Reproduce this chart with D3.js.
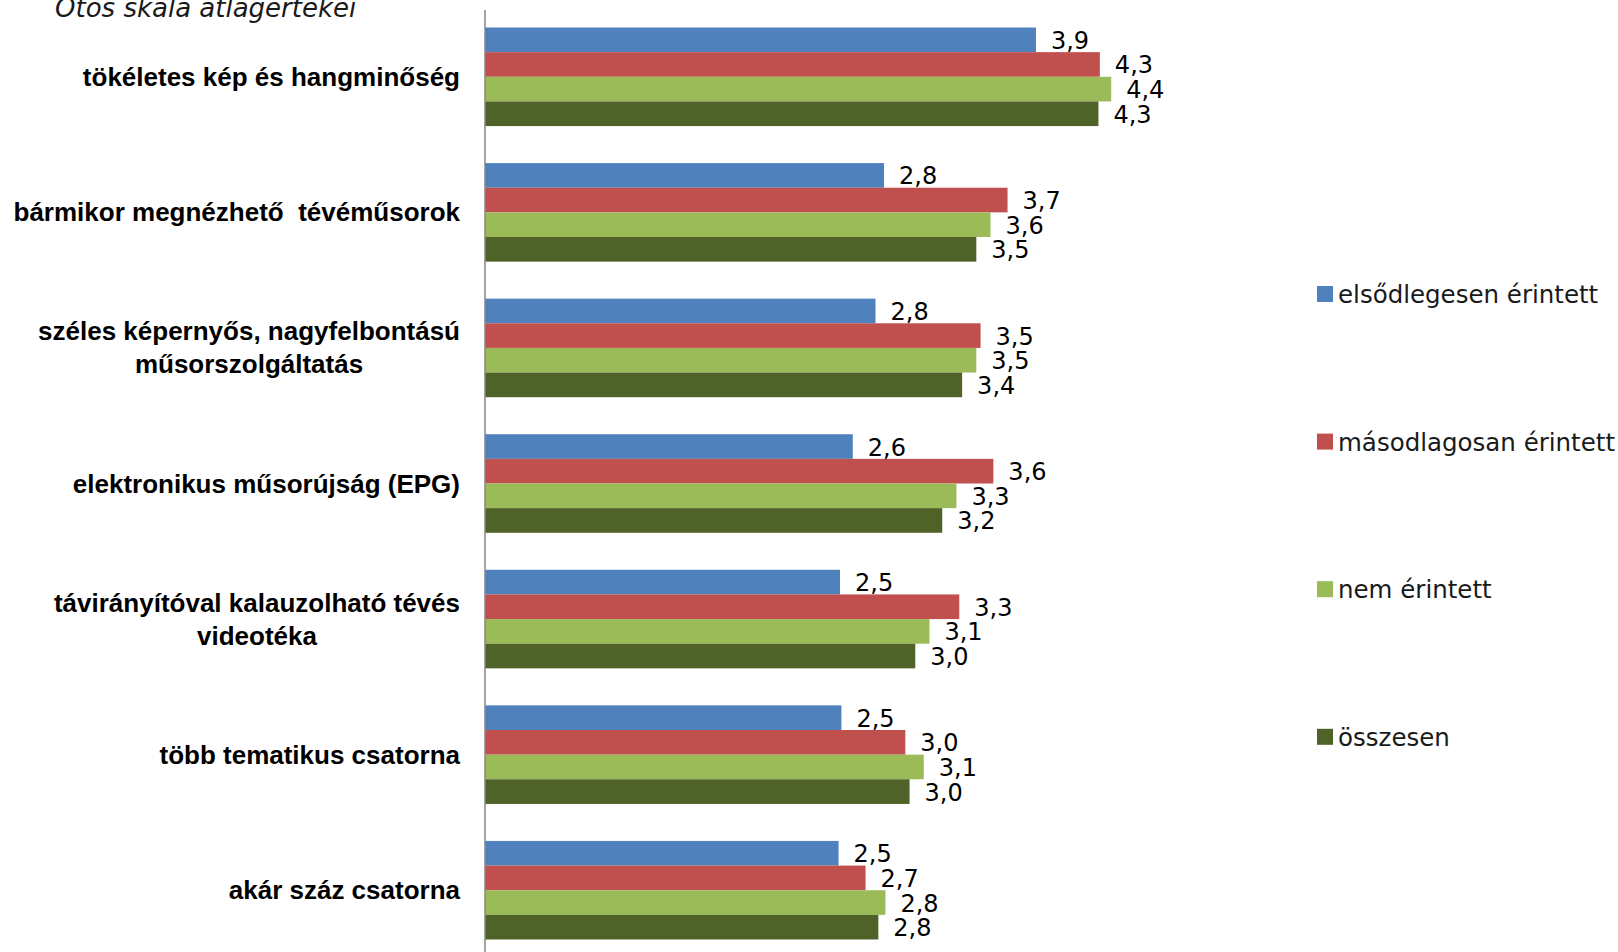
<!DOCTYPE html>
<html>
<head>
<meta charset="utf-8">
<script src="https://cdn.jsdelivr.net/npm/d3@7"></script>
<style>
  body { margin: 0; background: #fff; }
  svg { display: block; font-family: "DejaVu Sans", Verdana, sans-serif; }
</style>
</head>
<body>
<script>
// data
var categories = [
  ["tökéletes kép és hangminőség"],
  ["bármikor megnézhető  tévéműsorok"],
  ["széles képernyős, nagyfelbontású", "műsorszolgáltatás"],
  ["elektronikus műsorújság (EPG)"],
  ["távirányítóval kalauzolható tévés", "videotéka"],
  ["több tematikus csatorna"],
  ["akár száz csatorna"]
];
var seriesNames = ["elsődlegesen érintett", "másodlagosan érintett", "nem érintett", "összesen"];
var elsodleges   = [3.88, 2.81, 2.75, 2.59, 2.50, 2.51, 2.49];
var masodlagos   = [4.33, 3.68, 3.49, 3.58, 3.34, 2.96, 2.68];
var nemErintett  = [4.41, 3.56, 3.46, 3.32, 3.13, 3.09, 2.82];
var osszesen     = [4.32, 3.46, 3.36, 3.22, 3.03, 2.99, 2.77];
var seriesValues = [elsodleges, masodlagos, nemErintett, osszesen];
var colors = ["#4F81BD", "#C0504D", "#9BBB59", "#4F6228"];
var title = "Ötös skála átlagértékei";

var W = 1618, H = 952;
var svg = d3.select("body").append("svg").attr("width", W).attr("height", H);

var catKeys = categories.map(function(c, i) { return i; });

var x = d3.scaleLinear().domain([0, 5]).range([485, 1195]);
var y = d3.scaleBand().domain(catKeys).range([9, 958])
  .paddingInner(0.273).paddingOuter(0.1365);
var y1 = d3.scaleBand().domain(d3.range(seriesNames.length)).range([0, y.bandwidth()]);

var fmt = function(v) { return d3.format(".1f")(v).replace(".", ","); };

// bars
seriesValues.forEach(function(vals, s) {
  svg.append("g").selectAll("rect")
    .data(vals)
    .enter().append("rect")
    .attr("x", x(0))
    .attr("y", function(d, i) { return y(i) + y1(s); })
    .attr("width", function(d) { return x(d) - x(0); })
    .attr("height", y1.bandwidth())
    .attr("fill", colors[s]);

  svg.append("g").selectAll("text")
    .data(vals)
    .enter().append("text")
    .attr("x", function(d) { return x(d) + 15; })
    .attr("y", function(d, i) { return y(i) + y1(s) + y1.bandwidth() / 2 + 9; })
    .attr("font-size", 24)
    .attr("fill", "#000")
    .text(fmt);
});

// axis line
svg.append("line")
  .attr("x1", x(0)).attr("x2", x(0))
  .attr("y1", 10).attr("y2", H)
  .attr("stroke", "#868686").attr("stroke-width", 1.5);

// category labels
var labelRight = 460;
var lineGap = 33;
catKeys.forEach(function(i) {
  var lines = categories[i];
  var cy = y(i) + y.bandwidth() / 2;
  var g = svg.append("g");
  var texts = lines.map(function(t, k) {
    return g.append("text")
      .attr("y", cy + (k - (lines.length - 1) / 2) * lineGap + 9)
      .attr("font-family", "'Liberation Sans', Arial, sans-serif")
      .attr("font-size", 26)
      .attr("font-weight", "bold")
      .attr("fill", "#000")
      .attr("text-anchor", "middle")
      .style("white-space", "pre")
      .text(t);
  });
  var maxW = d3.max(texts, function(t) { return t.node().getComputedTextLength(); });
  texts.forEach(function(t) { t.attr("x", labelRight - maxW / 2); });
});

// title
svg.append("text")
  .attr("x", 55).attr("y", 17)
  .attr("font-size", 26)
  .attr("font-style", "italic")
  .attr("fill", "#1a1a1a")
  .text(title);

// legend
var legend = svg.append("g");
seriesNames.forEach(function(n, s) {
  var ly = 294 + s * 147.6;
  legend.append("rect")
    .attr("x", 1317).attr("y", ly - 8)
    .attr("width", 16).attr("height", 16)
    .attr("fill", colors[s]);
  legend.append("text")
    .attr("x", 1338).attr("y", ly + 9)
    .attr("font-size", 24.5)
    .attr("fill", "#1a1a1a")
    .text(n);
});
</script>
</body>
</html>
